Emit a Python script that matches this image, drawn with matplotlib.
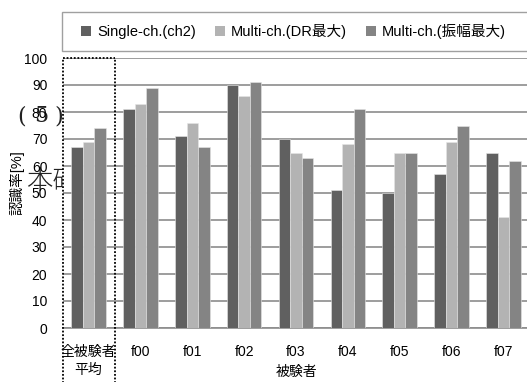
import numpy as np
import matplotlib.pyplot as plt
from matplotlib.patches import Patch, Rectangle
import matplotlib.transforms as mtransforms

plt.rcParams['font.family'] = ['Liberation Sans', 'Noto Sans CJK JP', 'DejaVu Sans']

categories = ['全被験者\n平均', 'f00', 'f01', 'f02', 'f03', 'f04', 'f05', 'f06', 'f07']
series_names = ['Single-ch.(ch2)', 'Multi-ch.(DR最大)', 'Multi-ch.(振幅最大)']
single = [67, 81, 71, 90, 70, 51, 50, 57, 65]
multi_dr = [69, 83, 76, 86, 65, 68, 65, 69, 41]
multi_amp = [74, 89, 67, 91, 63, 81, 65, 75, 62]
colors = ['#606060', '#b3b3b3', '#848484']
yticks = [0, 10, 20, 30, 40, 50, 60, 70, 80, 90, 100]

W, H = 527, 382
fig = plt.figure(figsize=(W / 100, H / 100), dpi=100)

# stray text from the source page, sits behind the plot
for s, px in [('(', 17), ('5', 34), (')', 54)]:
    fig.text(px / W, 1 - 116 / H, s, fontsize=16, family=['DejaVu Serif'],
             va='center', ha='left', zorder=-1, color='#222222')
fig.text(26 / W, 1 - 181 / H, '本研', fontsize=19, family=['Noto Sans CJK JP'],
         va='center', ha='left', zorder=-1, color='#222222', fontweight='light')

left, right = 62.6, 529.4
top, bottom = 58, 328
ax = fig.add_axes([left / W, 1 - bottom / H, (right - left) / W, (bottom - top) / H])
ax.set_facecolor('white')

x = np.arange(len(categories))
bw = 0.222
for i, vals in enumerate([single, multi_dr, multi_amp]):
    ax.bar(x + (i - 1) * bw, vals, bw, color=colors[i], edgecolor='#e6e6e6',
           linewidth=0.4, zorder=3)

ax.set_xlim(-0.5, len(categories) - 0.5)
ax.set_ylim(0, 100)
ax.set_yticks(yticks)
ax.yaxis.grid(True, color='#8c8c8c', linewidth=1.2, zorder=1)
ax.set_axisbelow(True)
for s in ['top', 'right', 'left']:
    ax.spines[s].set_visible(False)
ax.spines['bottom'].set_color('#8c8c8c')
ax.spines['bottom'].set_linewidth(1.2)
ax.tick_params(axis='both', length=0, labelsize=10, colors='black')
ax.tick_params(axis='y', pad=11)
ax.tick_params(axis='x', pad=12)
ax.set_xticks(x)
ax.set_xticklabels(categories, linespacing=1.35)

fig.text(296 / W, 1 - 372 / H, '被験者', fontsize=10, va='center', ha='center')
fig.text(17 / W, 1 - 183 / H, '認識率[%]', rotation=90, fontsize=10.5,
         va='center', ha='center')

# dotted box around the average group
trans = mtransforms.blended_transform_factory(ax.transData, ax.transAxes)
ax.plot([-0.5, -0.5], [-0.3, 1.0], transform=trans, color='black', ls=(0, (1, 1)),
        lw=1.3, clip_on=False, zorder=5)
ax.plot([0.51, 0.51], [-0.3, 1.0], transform=trans, color='black', ls=(0, (1, 1)),
        lw=1.3, clip_on=False, zorder=5)
ax.plot([-0.5, 0.51], [1.0, 1.0], transform=trans, color='black', ls=(0, (1, 1)),
        lw=1.3, clip_on=False, zorder=5)

# legend box
fig.patches.append(Rectangle((62 / W, 1 - 51 / H), 470 / W, 39 / H,
                             transform=fig.transFigure, facecolor='white',
                             edgecolor='#a0a0a0', linewidth=1.0))
handles = [Patch(facecolor=c, edgecolor='none') for c in colors]
fig.legend(handles, series_names, loc='center left', ncol=3, frameon=False,
           bbox_to_anchor=(68 / W, 1 - 31.5 / H), fontsize=10.5,
           handlelength=0.7, handleheight=0.7, handletextpad=0.4, columnspacing=1.3)

fig.savefig('out.png', dpi=100)
